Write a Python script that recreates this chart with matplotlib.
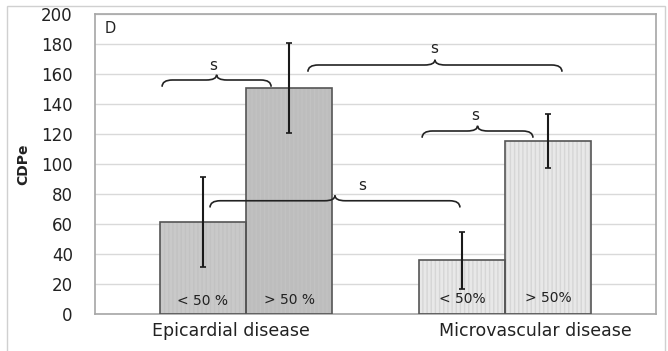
import matplotlib
matplotlib.use("Agg")
import matplotlib.pyplot as plt
from matplotlib.path import Path
from matplotlib.patches import PathPatch, Rectangle
import numpy as np

groups = ["Epicardial disease", "Microvascular disease"]
subgroups = ["< 50 %", "> 50 %", "< 50%", "> 50%"]
values = [61.5, 151, 36, 115.5]
errors = [30, 30, 19, 18]
bar_colors = ["#c9c9c9", "#bdbdbd", "#e8e8e8", "#e8e8e8"]
yticks = [0, 20, 40, 60, 80, 100, 120, 140, 160, 180, 200]
# significance braces: (x0, x1, y, label_x, label_y)
braces = [(-0.324, 0.097, 156, -0.127, 161),
          (0.239, 1.22, 166, 0.726, 172),
          (0.680, 1.108, 122, 0.884, 127),
          (-0.139, 0.826, 75.5, 0.448, 81)]

fig = plt.figure(figsize=(6.68, 3.51), dpi=100)
fig.patch.set_facecolor("white")
ax = fig.add_axes([95/668, 37/351, (656-95)/668, 300/351])

w = 0.333
xs = [-w/2, w/2, 1 - w/2, 1 + w/2]
for x, v, c in zip(xs, values, bar_colors):
    ax.bar(x, v, width=w, color=c, edgecolor="#d6d6d6" if c == "#e8e8e8" else "#c2c2c2",
           hatch="||||", linewidth=0, zorder=2)
    ax.bar(x, v, width=w, color="none", edgecolor="#555555", linewidth=1.2, zorder=3)
ax.errorbar(xs, values, yerr=errors, fmt="none", ecolor="#1a1a1a", elinewidth=1.5,
            capsize=2.5, capthick=1.2, zorder=4)

label_y = [4, 5, 5.5, 6]
for x, s, ly in zip(xs, subgroups, label_y):
    ax.text(x, ly, s, ha="center", va="bottom", fontsize=10, color="#222222", zorder=5)

rx = 0.04
for (x0, x1, y, lx, ly) in braces:
    xm = (x0 + x1) / 2
    he, hp = 4.5, 3.5
    verts = [(x0, y - he), (x0, y), (x0 + rx, y), (xm - rx, y), (xm, y), (xm, y + hp),
             (xm, y), (xm + rx, y), (x1 - rx, y), (x1, y), (x1, y - he)]
    codes = [Path.MOVETO, Path.CURVE3, Path.CURVE3, Path.LINETO, Path.CURVE3, Path.CURVE3,
             Path.CURVE3, Path.CURVE3, Path.LINETO, Path.CURVE3, Path.CURVE3]
    ax.add_patch(PathPatch(Path(verts, codes), facecolor="none", edgecolor="#222222",
                           linewidth=1.2, zorder=5))
    ax.text(lx, ly, "s", ha="center", va="bottom", fontsize=11, color="#222222", zorder=5)

ax.text(-0.525, 190.5, "D", ha="center", va="center", fontsize=10.5, color="#222222")

ax.set_xlim(-0.583, 1.583)
ax.set_ylim(0, 200)
ax.set_yticks(yticks)
ax.set_yticklabels([str(t) for t in yticks], fontsize=12, color="#222222")
ax.set_xticks([-0.058, 1.116])
ax.set_xticklabels(groups, fontsize=12.5, color="#222222")
ax.tick_params(axis="x", length=0, pad=6)
ax.tick_params(axis="y", length=0, pad=16)
ax.yaxis.grid(True, color="#d9d9d9", linewidth=1.0, zorder=0)
ax.set_axisbelow(True)
for sp in ax.spines.values():
    sp.set_color("#a6a6a6")
    sp.set_linewidth(1.2)
ax.set_ylabel("CDPe", fontsize=10, fontweight="bold", color="#222222")
ax.yaxis.set_label_coords(-0.115, 0.5)

fig.add_artist(Rectangle((7/668, -0.01), (665-7)/668, (348-3)/351 + 0.01, transform=fig.transFigure,
                         fill=False, edgecolor="#d0d0d0", linewidth=1.0))

fig.savefig("out.png", dpi=100)
